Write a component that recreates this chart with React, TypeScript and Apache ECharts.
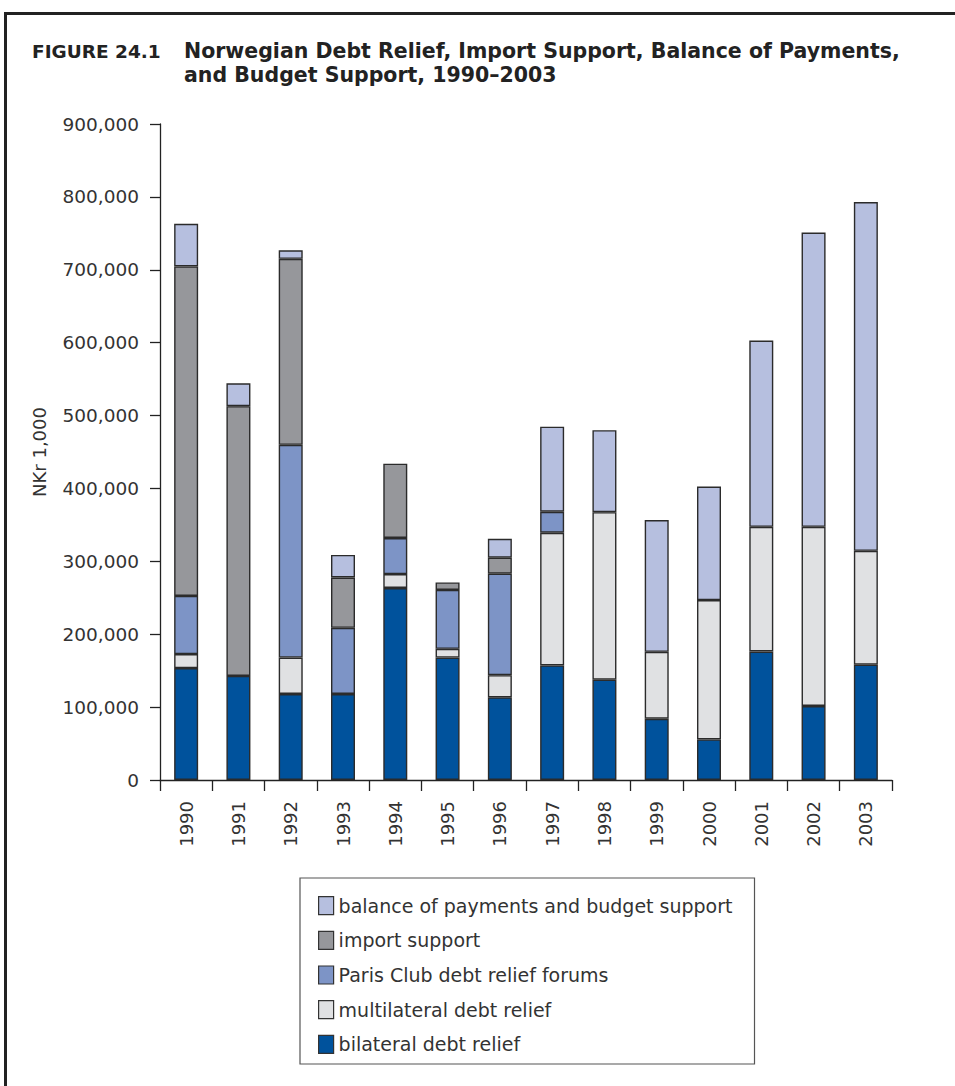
import React, { useEffect, useRef } from "react";
import * as echarts from "echarts";

const years = ["1990","1991","1992","1993","1994","1995","1996","1997","1998","1999","2000","2001","2002","2003"];
const bilateral = [153600, 142800, 118000, 118000, 263400, 168000, 113400, 157200, 137600, 84000, 55700, 176300, 101500, 158200];
const multilateral = [19100, 0, 50000, 0, 19100, 11900, 30400, 182000, 229900, 91800, 191200, 171100, 245900, 156200];
const parisClub = [79900, 0, 291800, 90800, 49500, 80900, 139200, 28800, 0, 0, 0, 0, 0, 0];
const importSupport = [452000, 370100, 255200, 69000, 102000, 10200, 22000, 0, 0, 0, 0, 0, 0, 0];
const balanceSupport = [58400, 31400, 11800, 31000, 0, 0, 26000, 116800, 112400, 180900, 155700, 255600, 403600, 478600];
const yTicks = [0, 100000, 200000, 300000, 400000, 500000, 600000, 700000, 800000, 900000];

const seriesNames = [
  "bilateral debt relief",
  "multilateral debt relief",
  "Paris Club debt relief forums",
  "import support",
  "balance of payments and budget support",
];
const seriesColors = ["#00529c", "#e0e1e3", "#7d94c6", "#96979b", "#b6bfdf"];
const seriesData = [bilateral, multilateral, parisClub, importSupport, balanceSupport];

const FONT = "DejaVu Sans";

export default function App() {
  const ref = useRef<HTMLDivElement>(null);
  useEffect(() => {
    if (!ref.current) return;
    const chart = echarts.init(ref.current, null, { renderer: "svg" });
    chart.setOption({
      animation: false,
      backgroundColor: "#ffffff",
      textStyle: { fontFamily: FONT },
      grid: { left: 160, right: 63, top: 124, bottom: 306, containLabel: false },
      legend: {
        orient: "vertical",
        left: 300,
        top: 878,
        data: [...seriesNames].reverse(),
        icon: "rect",
        itemWidth: 15,
        itemHeight: 18,
        itemGap: 15.5,
        padding: [18, 22, 10, 18],
        borderColor: "#555",
        borderWidth: 1.2,
        textStyle: { fontFamily: FONT, fontSize: 19, color: "#333" },
        itemStyle: { borderColor: "#333", borderWidth: 1.2 },
        selectedMode: false,
      },
      xAxis: {
        type: "category",
        data: years,
        axisLine: { lineStyle: { color: "#222", width: 1.3 } },
        axisTick: { show: true, length: 11, lineStyle: { color: "#222", width: 1.3 } },
        axisLabel: { rotate: 90, margin: 21, fontSize: 18, color: "#333", fontFamily: FONT },
      },
      yAxis: {
        type: "value",
        min: 0,
        max: 900000,
        interval: 100000,
        name: "NKr 1,000",
        nameLocation: "middle",
        nameGap: 112,
        nameRotate: 90,
        nameTextStyle: { fontSize: 18, color: "#333", fontFamily: FONT },
        splitLine: { show: false },
        axisLine: { show: true, lineStyle: { color: "#222", width: 1.3 } },
        axisTick: { show: true, length: 10, lineStyle: { color: "#222", width: 1.3 } },
        axisLabel: {
          margin: 21,
          fontSize: 18.5,
          color: "#333",
          fontFamily: FONT,
          formatter: (v: number) => (yTicks.includes(v) ? v.toLocaleString("en-US") : ""),
        },
      },
      series: seriesNames.map((name, i) => ({
        name,
        type: "bar",
        stack: "total",
        barWidth: 24,
        data: seriesData[i].map((v) => (v === 0 ? null : v)),
        itemStyle: { color: seriesColors[i], borderColor: "#2b2b2b", borderWidth: 1.4 },
      })),
      graphic: [
        { type: "rect", shape: { x: 4, y: 12, width: 951, height: 3 }, style: { fill: "#222" } },
        { type: "rect", shape: { x: 4, y: 12, width: 3, height: 1074 }, style: { fill: "#222" } },
        {
          type: "text",
          left: 32,
          top: 42,
          style: { text: "FIGURE 24.1", fontFamily: FONT, fontWeight: "bold", fontSize: 18.5, fill: "#222" },
        },
        {
          type: "text",
          left: 184,
          top: 39,
          style: {
            text: "Norwegian Debt Relief, Import Support, Balance of Payments,\nand Budget Support, 1990–2003",
            fontFamily: FONT,
            fontWeight: "bold",
            fontSize: 20.5,
            lineHeight: 24,
            fill: "#222",
          },
        },
      ],
    });
    return () => chart.dispose();
  }, []);
  return (
    <div
      ref={ref}
      style={{ position: "absolute", left: 0, top: 0, width: 955, height: 1086, background: "#fff" }}
    />
  );
}
